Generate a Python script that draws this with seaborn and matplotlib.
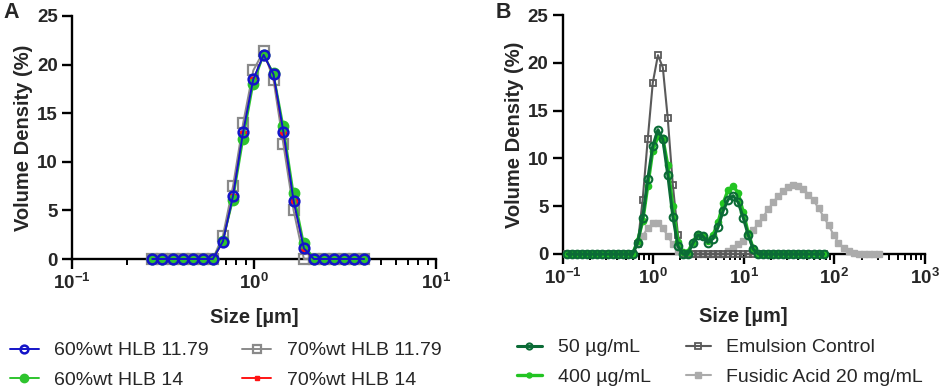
import matplotlib
matplotlib.use("Agg")
import matplotlib.pyplot as plt
import seaborn as sns
import numpy as np
import pandas as pd
from matplotlib.ticker import FixedLocator, NullFormatter

sns.set_style("ticks")
plt.rcParams["font.family"] = ["Liberation Sans", "DejaVu Sans"]
plt.rcParams["mathtext.fontset"] = "custom"
plt.rcParams["mathtext.rm"] = "Liberation Sans"
plt.rcParams["mathtext.bf"] = "Liberation Sans:bold"

# ---------------- data ----------------
# Panel A
sizes_A = [0.276, 0.314, 0.357, 0.405, 0.460, 0.523, 0.594, 0.675, 0.767, 0.872,
           0.991, 1.13, 1.28, 1.45, 1.65, 1.88, 2.13, 2.42, 2.75, 3.12, 3.55, 4.03]
hlb60_1179 = [0, 0, 0, 0, 0, 0, 0, 1.8, 6.5, 13.1, 18.5, 21.0, 19.0, 13.1, 6.0, 1.1,
              0, 0, 0, 0, 0, 0]
hlb60_14 = [0, 0, 0, 0, 0, 0, 0, 1.9, 6.1, 12.3, 18.0, 21.0, 19.1, 13.7, 6.8, 1.6,
            0, 0, 0, 0, 0, 0]
hlb70_1179 = [0, 0, 0, 0, 0, 0, 0, 2.4, 7.5, 14.0, 19.4, 21.4, 18.4, 11.8, 5.0, 0.0,
              0, 0, 0, 0, 0, 0]
hlb70_14 = [0, 0, 0, 0, 0, 0, 0, 1.8, 6.4, 12.9, 18.4, 21.0, 19.0, 13.0, 6.1, 1.1,
            0, 0, 0, 0, 0, 0]
labels_A = ["60%wt HLB 11.79", "60%wt HLB 14", "70%wt HLB 11.79", "70%wt HLB 14"]

# Panel B
sizes_B = [0.113, 0.128, 0.146, 0.166, 0.188, 0.214, 0.243, 0.276, 0.314, 0.357,
           0.405, 0.460, 0.523, 0.594, 0.675, 0.767, 0.872, 0.991, 1.13, 1.28,
           1.45, 1.65, 1.88, 2.13, 2.42, 2.75, 3.12, 3.55, 4.03, 4.58,
           5.21, 5.92, 6.72, 7.64, 8.68, 9.86, 11.2, 12.7, 14.5, 16.4,
           18.7, 21.2, 24.1, 27.4, 31.1, 35.3, 40.1, 45.6, 51.8, 58.9,
           66.9, 76.0]
sizes_B_fa = sizes_B + [86.4, 98.1, 111, 127, 144, 163, 186, 211, 240, 272, 310]
ug50 = [0] * 14 + [1.2, 3.8, 7.8, 11.3, 13.0, 12.0, 8.3, 3.9, 0.8, 0.0,
                   0.0, 1.15, 2.0, 1.85, 1.2, 1.6, 2.8, 4.5, 5.7, 6.1,
                   5.4, 3.8, 2.0, 0.5] + [0] * 14
ug400 = [0] * 14 + [1.4, 3.4, 7.1, 10.8, 12.3, 12.1, 9.3, 5.0, 1.3, 0.2,
                    0.2, 1.3, 2.1, 1.9, 1.4, 2.0, 3.3, 5.3, 6.7, 7.1,
                    6.4, 4.4, 2.2, 0.6] + [0] * 14
emulsion = [0] * 14 + [1.0, 5.7, 12.0, 17.9, 20.8, 19.5, 14.2, 7.2, 2.0] + [0] * 29
fusidic = [0] * 14 + [1.2, 1.9, 2.7, 3.2, 3.2, 2.7, 1.9, 1.0, 0.3] + [0] * 9 + \
          [0.3, 0.6, 1.0, 1.4, 1.9, 2.5, 3.2, 3.9, 4.7, 5.4,
           6.1, 6.6, 7.0, 7.2, 7.1, 6.8, 6.2, 5.6, 4.8, 3.9,
           3.0, 2.0, 1.2, 0.6, 0.3, 0.1] + [0] * 5
labels_B = ["50 \u00b5g/mL", "400 \u00b5g/mL", "Emulsion Control", "Fusidic Acid 20 mg/mL"]

y_ticks = [0, 5, 10, 15, 20, 25]
xticks_A = [0.1, 1, 10]
xticklabels_A = [r"$\mathdefault{10^{-1}}$", r"$\mathdefault{10^{0}}$", r"$\mathdefault{10^{1}}$"]
xticks_B = [0.1, 1, 10, 100, 1000]
xticklabels_B = [r"$\mathdefault{10^{-1}}$", r"$\mathdefault{10^{0}}$", r"$\mathdefault{10^{1}}$",
                 r"$\mathdefault{10^{2}}$", r"$\mathdefault{10^{3}}$"]

W, H = 941, 390
fig = plt.figure(figsize=(W / 100, H / 100), dpi=100)
axA = fig.add_axes([72 / W, 1 - 259 / H, (436 - 72) / W, (259 - 16) / H])
axB = fig.add_axes([562.5 / W, 1 - 254 / H, (925 - 562.5) / W, (254 - 15) / H])


def style(ax, xlim, xticks, xticklabels, ylabelpad, xlabelpad):
    ax.set_xscale("log")
    ax.set_xlim(*xlim)
    ax.set_ylim(0, 25)
    for s in ["top", "right"]:
        ax.spines[s].set_visible(False)
    for s in ["left", "bottom"]:
        ax.spines[s].set_linewidth(1.7)
        ax.spines[s].set_color("black")
    ax.set_yticks(y_ticks)
    ax.set_yticklabels([str(v) for v in y_ticks], fontweight="bold", fontsize=13.5)
    ax.xaxis.set_major_locator(FixedLocator(xticks))
    minors = []
    for d in xticks[:-1]:
        minors += [d * k for k in range(2, 10)]
    ax.xaxis.set_minor_locator(FixedLocator(minors))
    ax.xaxis.set_minor_formatter(NullFormatter())
    ax.set_xticklabels(xticklabels, fontweight="bold", fontsize=13.5)
    ax.tick_params(axis="both", which="major", length=7, width=1.7, direction="out",
                   color="black", pad=3)
    ax.tick_params(axis="x", which="minor", length=4, width=1.4, direction="out", color="black")
    ax.tick_params(axis="y", which="minor", length=0)
    ax.set_xlabel("Size [\u00b5m]", fontweight="bold", fontsize=14.5, labelpad=xlabelpad)
    ax.set_ylabel("Volume Density (%)", fontweight="bold", fontsize=14.5, labelpad=ylabelpad)
    ax.grid(False)


def line(ax, x, y, color, marker, ms, mfc, mec, mew, lw, label, z):
    sns.lineplot(x=x, y=y, ax=ax, color=color, marker=marker, markersize=ms,
                 markerfacecolor=mfc, markeredgecolor=mec, markeredgewidth=mew,
                 linewidth=lw, label=label, clip_on=False, zorder=z, sort=False,
                 legend=True)


# Panel A
blue, green, gray, red = "#1414C8", "#2EC42E", "#8A8A8A", "#FF1414"
line(axA, sizes_A, hlb70_1179, gray, "s", 7, "none", gray, 1.6, 1.4, labels_A[2], 3)
line(axA, sizes_A, hlb70_14, red, "s", 4, red, red, 1.0, 1.4, labels_A[3], 4)
line(axA, sizes_A, hlb60_14, green, "o", 7.5, green, green, 1.0, 1.4, labels_A[1], 5)
line(axA, sizes_A, hlb60_1179, blue, "o", 7, "none", blue, 1.8, 1.4, labels_A[0], 6)
style(axA, (0.1, 10), xticks_A, xticklabels_A, 3, 11)

# Panel B
dkgreen, ltgreen, dkgray, ltgray = "#0B6B36", "#22C422", "#5A5A5A", "#ABABAB"
line(axB, sizes_B_fa, fusidic, ltgray, "s", 5, ltgray, ltgray, 1.0, 1.5, labels_B[3], 3)
line(axB, sizes_B, emulsion, dkgray, "s", 5, "none", dkgray, 1.3, 1.5, labels_B[2], 4)
line(axB, sizes_B, ug400, ltgreen, "o", 4.5, ltgreen, ltgreen, 1.0, 2.4, labels_B[1], 5)
line(axB, sizes_B, ug50, dkgreen, "o", 5.5, "none", dkgreen, 1.5, 2.2, labels_B[0], 6)
style(axB, (0.1, 1000), xticks_B, xticklabels_B, 3, 14)

# Legends
hA, lA = axA.get_legend_handles_labels()
order_A = [lA.index(l) for l in labels_A]
axA.get_legend().remove()
fig.legend([hA[i] for i in order_A], [lA[i] for i in order_A], loc="upper left",
           bbox_to_anchor=(0 / W, 1 - 332 / H), ncol=2, frameon=False, fontsize=14,
           handlelength=1.5, handletextpad=0.8, columnspacing=1.7, labelspacing=0.6,
           borderpad=0, markerscale=0.8)

hB, lB = axB.get_legend_handles_labels()
order_B = [lB.index(l) for l in labels_B]
axB.get_legend().remove()
fig.legend([hB[i] for i in order_B], [lB[i] for i in order_B], loc="upper left",
           bbox_to_anchor=(507 / W, 1 - 329 / H), ncol=2, frameon=False, fontsize=14,
           handlelength=1.3, handletextpad=0.8, columnspacing=1.8, labelspacing=0.6,
           borderpad=0, markerscale=0.8)

fig.text(3 / W, 1 - 2 / H, "A", fontweight="bold", fontsize=15.5, ha="left", va="top")
fig.text(496 / W, 1 - 2 / H, "B", fontweight="bold", fontsize=15.5, ha="left", va="top")

fig.savefig("out.png", dpi=100)
